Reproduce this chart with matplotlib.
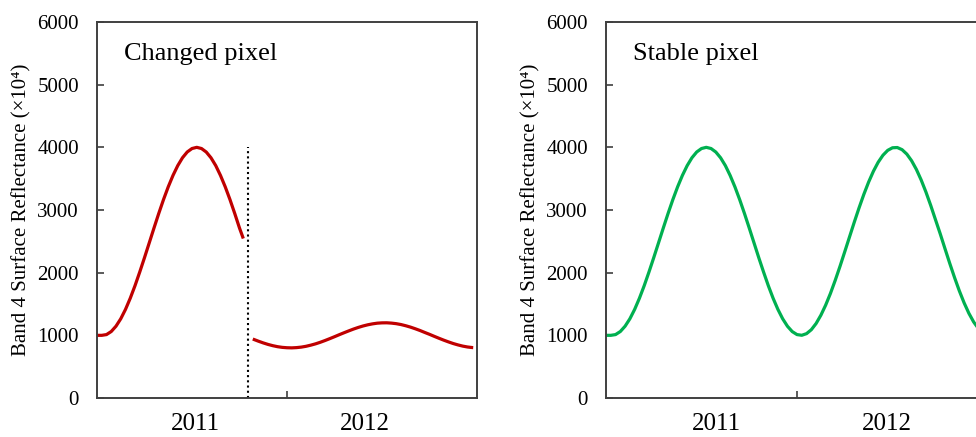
import matplotlib
matplotlib.use("Agg")
import matplotlib.pyplot as plt

plt.rcParams['font.family'] = ['Liberation Serif', 'DejaVu Serif']

# Time axis in years since start of 2011 (0..2), sampled every 0.025 year
x_grid = [0.000, 0.025, 0.050, 0.075, 0.100, 0.125, 0.150, 0.175, 0.200, 0.225,
          0.250, 0.275, 0.300, 0.325, 0.350, 0.375, 0.400, 0.425, 0.450, 0.475,
          0.500, 0.525, 0.550, 0.575, 0.600, 0.625, 0.650, 0.675, 0.700, 0.725,
          0.750, 0.775, 0.800, 0.825, 0.850, 0.875, 0.900, 0.925, 0.950, 0.975,
          1.000, 1.025, 1.050, 1.075, 1.100, 1.125, 1.150, 1.175, 1.200, 1.225,
          1.250, 1.275, 1.300, 1.325, 1.350, 1.375, 1.400, 1.425, 1.450, 1.475,
          1.500, 1.525, 1.550, 1.575, 1.600, 1.625, 1.650, 1.675, 1.700, 1.725,
          1.750, 1.775, 1.800, 1.825, 1.850, 1.875, 1.900, 1.925, 1.950, 1.975,
          2.000]

# Stable pixel (green)
stable_vals = [1000, 1000, 1012, 1061, 1146, 1264, 1414, 1592, 1792, 2011,
               2240, 2476, 2713, 2945, 3166, 3370, 3552, 3708, 3834, 3926,
               3981, 4000, 3981, 3925, 3833, 3708, 3551, 3369, 3165, 2944,
               2712, 2475, 2238, 2010, 1791, 1591, 1414, 1264, 1145, 1060,
               1012, 1001, 1027, 1090, 1189, 1321, 1482, 1668, 1877, 2100,
               2334, 2571, 2807, 3035, 3250, 3446, 3618, 3762, 3874, 3952,
               3993, 3997, 3963, 3892, 3786, 3648, 3480, 3287, 3074, 2846,
               2619, 2381, 2146, 1921, 1709, 1518, 1351, 1213, 1108, 1037,
               1003]

# Changed pixel, before the change (red)
changed_x1 = [0.000, 0.025, 0.050, 0.075, 0.100, 0.125, 0.150, 0.175, 0.200, 0.225,
              0.250, 0.275, 0.300, 0.325, 0.350, 0.375, 0.400, 0.425, 0.450, 0.475,
              0.500, 0.525, 0.550, 0.575, 0.600, 0.625, 0.650, 0.675, 0.700, 0.725,
              0.750, 0.770]
changed_v1 = [1000, 1000, 1012, 1061, 1146, 1264, 1414, 1592, 1792, 2011,
              2240, 2476, 2713, 2945, 3166, 3370, 3552, 3708, 3834, 3926,
              3981, 4000, 3981, 3925, 3833, 3708, 3551, 3369, 3165, 2944,
              2712, 2545]

# Changed pixel, after the change (red)
changed_x2 = [0.820, 0.825, 0.850, 0.875, 0.900, 0.925, 0.950, 0.975,
              1.000, 1.025, 1.050, 1.075, 1.100, 1.125, 1.150, 1.175, 1.200, 1.225,
              1.250, 1.275, 1.300, 1.325, 1.350, 1.375, 1.400, 1.425, 1.450, 1.475,
              1.500, 1.525, 1.550, 1.575, 1.600, 1.625, 1.650, 1.675, 1.700, 1.725,
              1.750, 1.775, 1.800, 1.825, 1.850, 1.875, 1.900, 1.925, 1.950, 1.975,
              1.980]
changed_v2 = [941, 935, 906, 879, 855, 835, 819, 808,
              802, 800, 804, 812, 825, 843, 864, 889, 917, 947,
              978, 1010, 1041, 1071, 1100, 1126, 1149, 1168, 1183, 1194,
              1199, 1200, 1195, 1186, 1172, 1153, 1131, 1105, 1077, 1046,
              1016, 984, 953, 923, 895, 869, 847, 828, 814, 805,
              804]

change_x = 0.795
change_top = 4000

year_labels = ['2011', '2012']
year_pos_changed = [0.52, 1.41]
year_pos_stable = [0.58, 1.47]
y_ticks = [0, 1000, 2000, 3000, 4000, 5000, 6000]

RED = '#c00000'
GREEN = '#00b050'
SPINE = '#404040'

fig = plt.figure(figsize=(9.76, 4.37), dpi=100)
ax1 = fig.add_axes([97/976, 39/437, 380/976, 376/437])
ax2 = fig.add_axes([606/976, 39/437, 382/976, 376/437])


def style(ax, title, year_pos):
    ax.set_xlim(0, 2)
    ax.set_ylim(0, 6000)
    ax.set_yticks(y_ticks)
    ax.set_yticklabels([str(v) for v in y_ticks], fontsize=15)
    ax.set_xticks([1.0])
    ax.set_xticklabels([''])
    ax.set_xticks(year_pos, minor=True)
    ax.set_xticklabels(year_labels, minor=True, fontsize=18)
    ax.tick_params(axis='x', which='minor', length=0, pad=11)
    ax.tick_params(axis='x', which='major', direction='in', length=5,
                   width=1.2, color=SPINE)
    ax.tick_params(axis='y', direction='in', length=5, width=1.2,
                   color=SPINE, pad=13)
    for s in ax.spines.values():
        s.set_color(SPINE)
        s.set_linewidth(1.4)
    ax.set_ylabel('Band 4 Surface Reflectance (×10⁴)', fontsize=15,
                  labelpad=4)
    ax.text(0.07, 0.945, title, transform=ax.transAxes, fontsize=19,
            va='top', ha='left')


style(ax1, 'Changed pixel', year_pos_changed)
style(ax2, 'Stable pixel', year_pos_stable)

ax1.plot(changed_x1, changed_v1, color=RED, lw=2.3, solid_capstyle='butt')
ax1.plot(changed_x2, changed_v2, color=RED, lw=2.3, solid_capstyle='butt')
ax1.plot([change_x, change_x], [0, change_top], color='black', lw=1.5,
         linestyle=(0, (1, 1.5)))

ax2.plot(x_grid, stable_vals, color=GREEN, lw=2.3)

fig.savefig('out.png', dpi=100)
